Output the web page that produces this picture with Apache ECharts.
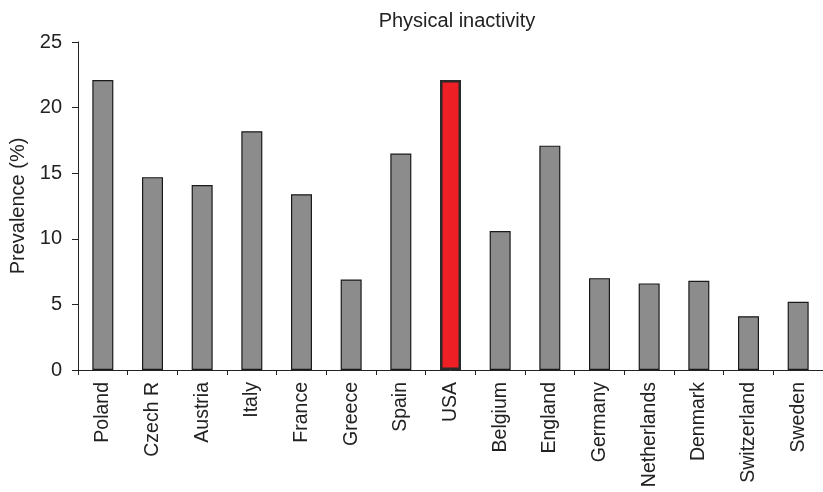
<!DOCTYPE html>
<html>
<head>
<meta charset="utf-8">
<script src="https://cdn.jsdelivr.net/npm/echarts@6/dist/echarts.min.js"></script>
<style>
html,body{margin:0;padding:0;background:#fff;}
#chart{width:823px;height:492px;}
</style>
</head>
<body>
<div id="chart"></div>
<script>
const categories = ['Poland','Czech R','Austria','Italy','France','Greece','Spain','USA','Belgium','England','Germany','Netherlands','Denmark','Switzerland','Sweden'];
const prevalence = [22.1, 14.7, 14.1, 18.2, 13.4, 6.9, 16.5, 22.1, 10.6, 17.1, 7.0, 6.6, 6.8, 4.1, 5.2];
const highlight = 'USA';
const yTicks = [0, 5, 10, 15, 20, 25];

const FONT = 'Liberation Sans, Arial, sans-serif';
const chart = echarts.init(document.getElementById('chart'), null, {renderer: 'canvas'});
const data = prevalence.map((v, i) => {
  if (categories[i] === highlight) {
    return {value: v, itemStyle: {color: '#ee1f25', borderColor: '#2a2a2a', borderWidth: 2.5}};
  }
  return v;
});
chart.setOption({
  animation: false,
  title: {
    text: 'Physical inactivity',
    left: 452, top: 6, textAlign: 'center',
    textStyle: {fontFamily: FONT, fontSize: 20, fontWeight: 'normal', color: '#222'}
  },
  grid: {left: 78, right: -4, top: 42, bottom: 122},
  xAxis: {
    type: 'category',
    data: categories,
    boundaryGap: true,
    axisLine: {lineStyle: {color: '#222', width: 1}},
    axisTick: {show: true, alignWithLabel: false, length: 5, lineStyle: {color: '#222'}},
    axisLabel: {rotate: 90, interval: 0, margin: 12, fontFamily: FONT, fontSize: 19.5, color: '#222'}
  },
  yAxis: {
    type: 'value',
    min: yTicks[0], max: yTicks[yTicks.length - 1], interval: 5,
    name: 'Prevalence (%)',
    nameLocation: 'middle',
    nameGap: 50,
    nameTextStyle: {fontFamily: FONT, fontSize: 20, color: '#222'},
    axisLine: {show: true, lineStyle: {color: '#222', width: 1}},
    axisTick: {show: true, length: 6, lineStyle: {color: '#222'}},
    axisLabel: {margin: 16, fontFamily: FONT, fontSize: 20, color: '#222'},
    splitLine: {show: false}
  },
  series: [{
    type: 'bar',
    data: data,
    barWidth: 21,
    itemStyle: {color: '#8c8c8c', borderColor: '#1a1a1a', borderWidth: 1.2}
  }]
});
</script>
</body>
</html>
